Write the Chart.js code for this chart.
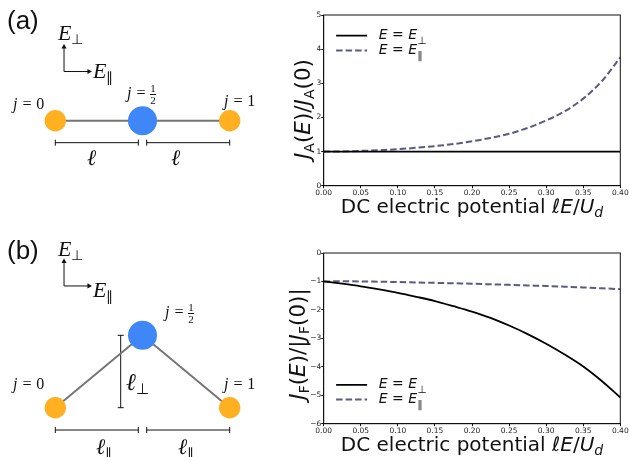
<!DOCTYPE html>
<html><head><meta charset="utf-8">
<style>
html,body{margin:0;padding:0;background:#fff;width:629px;height:457px;overflow:hidden}
canvas{position:absolute;display:block}
.t{position:absolute;white-space:nowrap;color:#111;line-height:1}
.m{font-family:"Liberation Serif",serif;font-style:italic}
.r{font-style:normal}
.s{font-family:"DejaVu Sans",sans-serif;font-size:21.5px;color:#111}
.s i{font-style:oblique}
.s sub{font-size:14px;vertical-align:-4px;line-height:0;font-style:normal}
.m sub{font-size:.62em;vertical-align:-.3em;line-height:0;font-style:normal}
.frac{display:inline-block;vertical-align:middle;text-align:center;font-style:normal;font-size:11px;line-height:11px}
.frac b{display:block;border-top:1.5px solid #111;font-weight:normal;}
.y{transform:translate(-50%,-50%) rotate(-90deg)}
.x{transform:translate(-50%,-50%);font-size:20px}
</style></head><body>
<canvas id="da" width="270" height="230" style="left:0;top:0"></canvas>
<canvas id="db" width="270" height="227" style="left:0;top:230px"></canvas>
<canvas id="pa" width="344" height="225" style="left:285px;top:0"></canvas>
<canvas id="pb" width="344" height="222" style="left:285px;top:235px"></canvas>

<div class="t" style="left:7px;top:5px;font:26px 'Liberation Sans'">(a)</div>
<div class="t" style="left:7px;top:235px;font:26px 'Liberation Sans'">(b)</div>

<div class="t m" style="left:58px;top:22px;font-size:22px">E<sub>⊥</sub></div>
<div class="t m" style="left:93px;top:60px;font-size:22px">E<sub>∥</sub></div>
<div class="t m" style="left:13px;top:96px;font-size:16px">j = <span class="r">0</span></div>
<div class="t m" style="left:127px;top:83px;font-size:16px">j = <span class="frac">1<b>2</b></span></div>
<div class="t m" style="left:224px;top:93px;font-size:16px">j = <span class="r">1</span></div>
<div class="t m" style="left:87px;top:147px;font-size:22px">ℓ</div>
<div class="t m" style="left:171px;top:147px;font-size:22px">ℓ</div>

<div class="t m" style="left:58px;top:238px;font-size:22px">E<sub>⊥</sub></div>
<div class="t m" style="left:93px;top:279px;font-size:22px">E<sub>∥</sub></div>
<div class="t m" style="left:13px;top:376px;font-size:16px">j = <span class="r">0</span></div>
<div class="t m" style="left:165px;top:302px;font-size:16px">j = <span class="frac">1<b>2</b></span></div>
<div class="t m" style="left:224px;top:376px;font-size:16px">j = <span class="r">1</span></div>
<div class="t m" style="left:126px;top:370px;font-size:24px">ℓ<sub>⊥</sub></div>
<div class="t m" style="left:96px;top:436px;font-size:22px">ℓ<sub>∥</sub></div>
<div class="t m" style="left:178px;top:436px;font-size:22px">ℓ<sub>∥</sub></div>

<div class="t s y" style="left:303px;top:109px"><i>J</i><sub>A</sub>(<i>E</i>)/<i>J</i><sub>A</sub>(0)</div>
<div class="t s x" style="left:472px;top:206px">DC electric potential <i>ℓE</i>/<i>U<sub style="font-style:oblique">d</sub></i></div>
<div class="t s y" style="left:298px;top:344px"><i>J</i><sub>F</sub>(<i>E</i>)/|<i>J</i><sub>F</sub>(0)|</div>
<div class="t s x" style="left:472px;top:444px">DC electric potential <i>ℓE</i>/<i>U<sub style="font-style:oblique">d</sub></i></div>

<script src="https://cdn.jsdelivr.net/npm/chart.js@4"></script>
<script>
// Curves: DC electric potential vs. normalised current
const potential = [0,0.025,0.05,0.075,0.1,0.125,0.15,0.175,0.2,0.225,0.25,0.275,0.3,0.325,0.35,0.375,0.4];
const jaPerp = [1,1,1,1,1,1,1,1,1,1,1,1,1,1,1,1,1];
const jaPara = [1,1.005,1.02,1.04,1.07,1.11,1.16,1.22,1.3,1.4,1.52,1.69,1.91,2.18,2.55,3.06,3.76];
const jfPerp = [-1,-1.08,-1.17,-1.28,-1.4,-1.54,-1.69,-1.87,-2.06,-2.28,-2.55,-2.85,-3.19,-3.57,-3.99,-4.5,-5.08];
const jfPara = [-1,-0.995,-1,-1.01,-1.02,-1.035,-1.05,-1.065,-1.08,-1.1,-1.12,-1.14,-1.16,-1.185,-1.21,-1.24,-1.27];
const xTicks = [0,0.05,0.1,0.15,0.2,0.25,0.3,0.35,0.4];
const yTicksA = [0,1,2,3,4,5];
const yTicksB = [-6,-5,-4,-3,-2,-1,0];
const labelBase = "E = E";
const labelPerp = "E = E⊥";
const labelPara = "E = E∥";

// Lattice diagrams, in units of the chain length
const siteX = [0,0.5,1];
const siteYA = [0,0,0];
const siteYB = [0,0.415,0];
const bracketLeftX = [0,0.476];
const bracketRightX = [0.524,1];
const bracketYA = -0.126;
const bracketYB = -0.128;
const perpBracketX = 0.375;
const arrowX = 0.05, arrowTipX = 0.193;
const arrowYA = 0.282, arrowTipYA = 0.4226;
const arrowYB = 0.698, arrowTipYB = 0.838;

const ORANGE='#FFB020', BLUE='#3F86F8', BOND='#757575', INK='#111', DASH='#5A5A82';
const LEG_FONT={family:'DejaVu Sans',size:14,style:'oblique'};

const frame = {id:'frame',afterDraw(c){const a=c.chartArea,x=c.ctx;x.save();x.strokeStyle='#111';x.lineWidth=1;
  x.strokeRect(a.left,a.top,a.width,a.height);x.restore();}};

function legendPlugin(dx,dy){return {id:'legendPlace',
  afterLayout(c){const l=c.legend;l.left+=dx;l.right+=dx;l.top+=dy;l.bottom+=dy;},
  afterDraw(c){const l=c.legend,x=c.ctx;x.save();x.fillStyle='#111';x.textBaseline='alphabetic';
    l.legendHitBoxes.forEach((h,i)=>{
      x.font=`oblique 14px "DejaVu Sans"`;
      const w=x.measureText(l.legendItems[i].text).width;
      x.font=`10.5px "DejaVu Sans"`;
      x.fillText(c.data.datasets[i].label.slice(-1),h.left+31+7+w+0.5,h.top+15.5);
    });x.restore();}};}

function linePlot(id,ys1,ys2,yTicks,yMin,yMax,align,padTop,axisH,dx,dy){
  new Chart(document.getElementById(id),{
    type:'line',
    data:{labels:potential,datasets:[
      {label:labelPerp,data:ys1.map((y,i)=>({x:potential[i],y})),borderColor:'#000',backgroundColor:'#000',borderWidth:1.8,pointRadius:0,cubicInterpolationMode:'monotone'},
      {label:labelPara,data:ys2.map((y,i)=>({x:potential[i],y})),borderColor:DASH,backgroundColor:DASH,borderWidth:2,borderDash:[6.5,3],pointRadius:0,cubicInterpolationMode:'monotone'}
    ]},
    options:{responsive:false,animation:false,devicePixelRatio:1,
      layout:{autoPadding:false,padding:{top:padTop,bottom:0,left:0,right:8.7}},
      plugins:{tooltip:{enabled:false},
        legend:{position:'chartArea',align,labels:{usePointStyle:true,pointStyle:'line',pointStyleWidth:31,boxHeight:14,padding:0.7,color:'#111',font:LEG_FONT,
          generateLabels(c){return Chart.defaults.plugins.legend.labels.generateLabels(c).map((it,i)=>{
            const d=c.data.datasets[i];
            return {...it,text:'\u2004'+labelBase,lineDash:d.borderDash||[],lineWidth:d.borderWidth,strokeStyle:d.borderColor};});}}}},
      scales:{
        x:{type:'linear',min:0,max:0.4,
          afterBuildTicks(s){s.ticks=xTicks.map(v=>({value:v}));},
          afterFit(s){s.height=axisH;s.paddingLeft=0;s.paddingRight=0;},
          grid:{drawOnChartArea:false,tickLength:2.5,tickColor:'#111'},border:{color:'#111'},
          ticks:{maxRotation:0,autoSkip:false,padding:0,color:'#222',font:{family:'DejaVu Sans',size:7.5},callback:v=>v.toFixed(2)}},
        y:{min:yMin,max:yMax,
          afterBuildTicks(s){s.ticks=yTicks.map(v=>({value:v}));},
          afterFit(s){s.width=38.7;s.paddingTop=0;s.paddingBottom=0;},
          grid:{drawOnChartArea:false,tickLength:2.5,tickColor:'#111'},border:{color:'#111'},
          ticks:{padding:0,autoSkip:false,color:'#222',font:{family:'DejaVu Sans',size:7.5},callback:v=>v<0?'\u2212'+Math.abs(v):String(v)}}
      }},
    plugins:[frame,legendPlugin(dx,dy)]
  });
}

function diagram(id,siteY,yMin,yMax,bracketY,arrowY,arrowTipY,withPerp){
  const seg=(xs,y)=>xs.map(x=>({x,y}));
  const cap={pointStyle:'line',pointRotation:90,pointRadius:3,pointBorderColor:INK,pointBorderWidth:1,borderColor:INK,borderWidth:1,showLine:true};
  const arrow=(a,b,rot)=>({data:[a,b],showLine:true,borderColor:INK,borderWidth:1,pointStyle:'triangle',pointRadius:[0,3],pointRotation:[0,rot],pointBackgroundColor:INK,pointBorderColor:INK,pointBorderWidth:0});
  const sets=[
    {data:siteX.map((x,i)=>({x,y:siteY[i]})),pointRadius:[10.7,14.5,10.7],pointBackgroundColor:[ORANGE,BLUE,ORANGE],pointBorderWidth:0,showLine:false},
    {data:siteX.map((x,i)=>({x,y:siteY[i]})),showLine:true,borderColor:BOND,borderWidth:2,pointRadius:0},
    {data:seg(bracketLeftX,bracketY),...cap},
    {data:seg(bracketRightX,bracketY),...cap},
    arrow({x:arrowX,y:arrowY},{x:arrowX,y:arrowTipY},0),
    arrow({x:arrowX,y:arrowY},{x:arrowTipX,y:arrowY},90)
  ];
  if(withPerp) sets.push({data:[{x:perpBracketX,y:0},{x:perpBracketX,y:siteY[1]}],...cap,pointRotation:0});
  new Chart(document.getElementById(id),{type:'scatter',data:{datasets:sets},
    options:{responsive:false,animation:false,devicePixelRatio:1,layout:{autoPadding:false,padding:0},
      plugins:{legend:{display:false},tooltip:{enabled:false}},
      scales:{x:{type:'linear',display:false,min:-0.3171,max:1.2311},y:{type:'linear',display:false,min:yMin,max:yMax}},
      elements:{line:{tension:0}}}});
}

linePlot('pa',jaPerp,jaPara,yTicksA,0,5,'start',15,39.3,11.7,28);
linePlot('pb',jfPerp,jfPara,yTicksB,-6,0,'end',18,33.3,11.7,1.5);
diagram('da',siteYA,-0.6267,0.6921,bracketYA,arrowYA,arrowTipYA,false);
diagram('db',siteYB,-0.2827,1.0189,bracketYB,arrowYB,arrowTipYB,true);
</script>
</body></html>
